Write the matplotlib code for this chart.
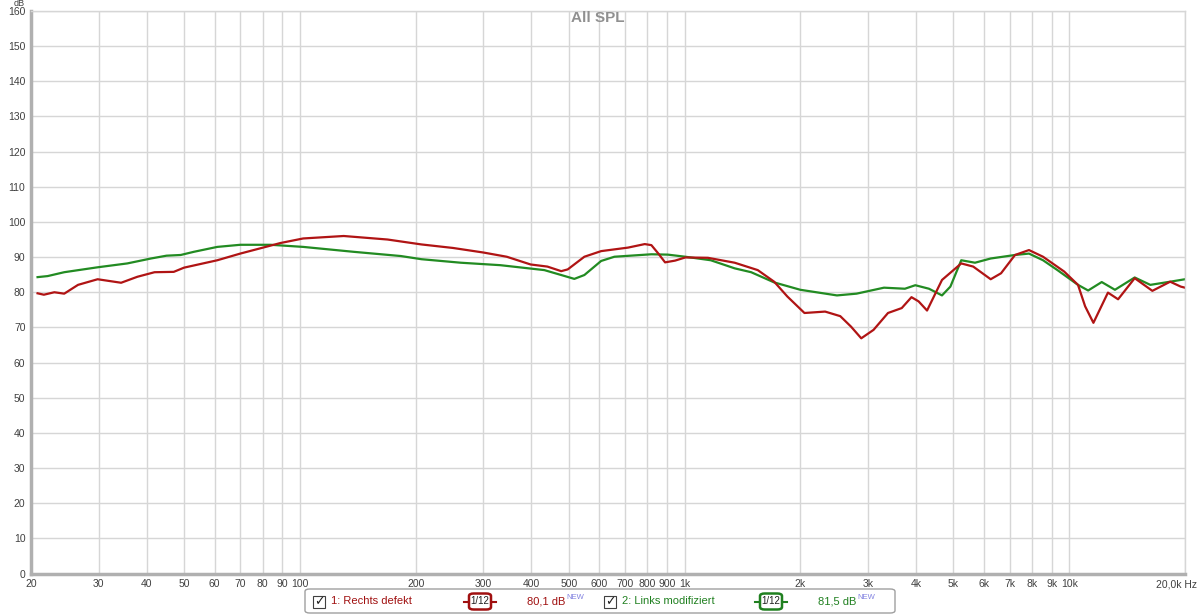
import numpy as np
import matplotlib
matplotlib.use("Agg")
import matplotlib.pyplot as plt
import matplotlib.transforms as mtransforms
from matplotlib.patches import FancyBboxPatch, Rectangle

plt.rcParams['font.family'] = ['Liberation Sans', 'DejaVu Sans']

# --- data (Hz, dB)
red_freq = [20.8, 21.6, 23.0, 24.4, 26.5, 29.8, 34.3, 37.8, 41.9, 47.0, 50.0, 61, 70, 89, 102, 130,
            169, 207, 250, 300, 345, 398, 440, 478, 497, 549, 607, 713, 788, 820, 855, 890, 945,
            1005, 1150, 1350, 1550, 1710, 1850, 2050, 2320, 2540, 2710, 2880, 3100, 3380, 3670,
            3890, 4060, 4270, 4670, 5240, 5630, 6250, 6650, 7230, 7860, 8550, 9700, 10540, 11000,
            11560, 12610, 13400, 14800, 16450, 18300, 19500, 20000]
red_db = [79.7, 79.3, 80.0, 79.6, 82.1, 83.7, 82.7, 84.4, 85.7, 85.8, 87.0, 89.1, 91.0, 94.0, 95.3,
          96.0, 95.0, 93.6, 92.6, 91.3, 90.1, 87.9, 87.3, 86.0, 86.5, 90.1, 91.7, 92.7, 93.7, 93.4,
          91.0, 88.5, 89.0, 89.9, 89.8, 88.4, 86.3, 83.0, 78.8, 74.1, 74.5, 73.2, 70.2, 66.9, 69.3,
          74.1, 75.5, 78.6, 77.4, 74.8, 83.5, 88.2, 87.3, 83.7, 85.4, 90.6, 92.0, 90.1, 85.9, 82.1,
          76.0, 71.3, 79.9, 78.0, 84.0, 80.4, 83.0, 81.6, 81.3]

green_freq = [20.8, 22.1, 24.4, 29.8, 35.6, 41, 45, 49, 53, 61, 70, 84, 102, 138, 183, 207, 262,
              332, 432, 478, 517, 549, 607, 657, 820, 905, 1005, 1170, 1350, 1490, 1710, 2000,
              2490, 2800, 3300, 3740, 3980, 4320, 4670, 4910, 5240, 5690, 6250, 7230, 7860, 8550,
              9320, 10540, 11200, 12150, 13150, 14800, 16250, 18300, 20000]
green_db = [84.3, 84.6, 85.7, 87.1, 88.2, 89.6, 90.4, 90.6, 91.5, 92.9, 93.5, 93.5, 92.9, 91.5,
            90.3, 89.4, 88.4, 87.7, 86.3, 84.9, 83.8, 84.9, 88.9, 90.1, 90.8, 90.7, 90.1, 89.1,
            86.8, 85.7, 82.8, 80.7, 79.1, 79.6, 81.3, 81.0, 82.0, 81.0, 79.1, 81.6, 89.1, 88.4,
            89.6, 90.6, 91.0, 89.1, 86.3, 82.1, 80.5, 82.9, 80.7, 84.2, 82.1, 83.0, 83.7]

x_ticks = [20, 30, 40, 50, 60, 70, 80, 90, 100, 200, 300, 400, 500, 600, 700, 800, 900,
           1000, 2000, 3000, 4000, 5000, 6000, 7000, 8000, 9000, 10000, 20000]
x_labels = ["20", "30", "40", "50", "60", "70", "80", "90", "100", "200", "300", "400", "500",
            "600", "700", "800", "900", "1k", "2k", "3k", "4k", "5k", "6k", "7k", "8k", "9k",
            "10k", "20,0k Hz"]
y_ticks = list(range(0, 161, 10))

RED = "#b01414"
GREEN = "#228b22"

fig = plt.figure(figsize=(12, 6.16), dpi=100)
ax = fig.add_axes([31 / 1200, 1 - 573.5 / 616, (1185 - 31) / 1200, (573.5 - 11) / 616])

ax.set_xscale("log")
ax.set_xlim(20, 20000)
ax.set_ylim(0, 160)
ax.set_xticks(x_ticks)
ax.set_xticklabels(x_labels)
ax.xaxis.set_minor_locator(matplotlib.ticker.NullLocator())
ax.set_yticks(y_ticks)
ax.tick_params(length=0, labelsize=7.5, colors="#404040", pad=4)
ax.grid(True, color="#d6d6d6", linewidth=1)
ax.set_axisbelow(True)

# last label sits right-aligned at the edge
last = ax.get_xticklabels()[-1]
last.set_horizontalalignment("right")
last.set_transform(last.get_transform() + mtransforms.ScaledTranslation(12 / 100, 0, fig.dpi_scale_trans))

for side in ["top", "right"]:
    ax.spines[side].set_color("#d6d6d6")
    ax.spines[side].set_linewidth(1)
for side in ["left", "bottom"]:
    ax.spines[side].set_color("#b0b0b0")
    ax.spines[side].set_linewidth(2.5)

ax.plot(green_freq, green_db, color=GREEN, lw=1.6)
ax.plot(red_freq, red_db, color=RED, lw=1.6)

fig.text(598 / 1200, 1 - 18 / 616, "All SPL", ha="center", va="center",
         fontsize=11, fontweight="bold", color="#909090")
fig.text(19 / 1200, 1 - 3 / 616, "dB", ha="center", va="center", fontsize=6.5, color="#404040")

# --- legend strip
def px(x, y):
    return x / 1200, 1 - y / 616

box = FancyBboxPatch(px(305, 613), 590 / 1200, 24 / 616, boxstyle="round,pad=0,rounding_size=0.004",
                     transform=fig.transFigure, fill=False, ec="#a0a0a0", lw=1)
fig.patches.append(box)

def entry(x0, label, value, color):
    fig.patches.append(Rectangle(px(x0, 607.5), 12 / 1200, 12 / 616, transform=fig.transFigure,
                                 fill=False, ec="#404040", lw=0.8))
    fig.text(*px(x0 + 1.5, 601.5), "\u2713", fontsize=9, color="#202020", va="center", ha="left",
             family="DejaVu Sans")
    fig.text(*px(x0 + 18, 601.5), label, fontsize=8, color=color, va="center", ha="left")
    ix = x0 + 151
    fig.lines.append(plt.Line2D([ix / 1200, (ix + 32) / 1200], [1 - 601.5 / 616] * 2,
                                transform=fig.transFigure, color=color, lw=1.5, zorder=0.5))
    fig.patches.append(FancyBboxPatch(px(ix + 5, 609.5), 22 / 1200, 16 / 616,
                                      boxstyle="round,pad=0,rounding_size=0.004",
                                      transform=fig.transFigure, fc="white", ec=color, lw=1.8,
                                      zorder=1))
    fig.text(*px(ix + 16, 601.5), "1/12", fontsize=7, color="#202020", va="center", ha="center")
    fig.text(*px(x0 + 214, 601.5), value, fontsize=8, color=color, va="center", ha="left")
    fig.text(*px(x0 + 253, 597.5), "NEW", fontsize=5.5, color="#8080e0", va="center", ha="left")

entry(313, "1: Rechts defekt", "80,1 dB", "#a01010")
entry(604, "2: Links modifiziert", "81,5 dB", "#208020")

fig.savefig("out.png", dpi=100, facecolor="white")
